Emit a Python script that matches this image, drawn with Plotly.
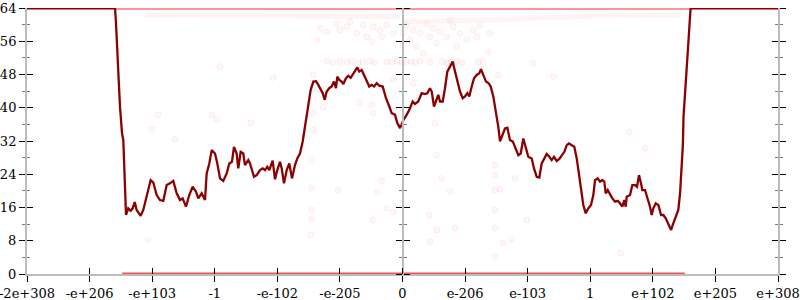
import plotly.graph_objects as go

# ---------------- data ----------------
tick_pos = [-6, -5, -4, -3, -2, -1, 0, 1, 2, 3, 4, 5, 6]
tick_text = ["-2e+308", "-e+206", "-e+103", "-1", "-e-102", "-e-205", "0",
             "e-206", "e-103", "1", "e+102", "e+205", "e+308"]
y_ticks = [0, 8, 16, 24, 32, 40, 48, 56, 64]

line_x = [-6.0, -4.594, -4.578, -4.562, -4.541, -4.514, -4.482, -4.461, -4.450, -4.434, -4.418,
          -4.382, -4.343, -4.311, -4.279, -4.248, -4.184, -4.142, -4.088, -4.024, -3.982, -3.928,
          -3.875, -3.822, -3.768, -3.715, -3.663, -3.608, -3.555, -3.513, -3.460, -3.407, -3.353,
          -3.300, -3.263, -3.209, -3.156, -3.129, -3.087, -3.049, -2.996, -2.959, -2.916, -2.864,
          -2.809, -2.768, -2.725, -2.693, -2.650, -2.624, -2.586, -2.544, -2.517, -2.464, -2.437,
          -2.373, -2.330, -2.277, -2.234, -2.197, -2.161, -2.129, -2.075, -2.037, -2.001, -1.957,
          -1.930, -1.894, -1.850, -1.809, -1.766, -1.718, -1.681, -1.638, -1.595, -1.542, -1.505,
          -1.467, -1.425, -1.382, -1.346, -1.307, -1.275, -1.243, -1.211, -1.170, -1.131, -1.095,
          -1.063, -1.042, -1.010, -0.972, -0.946, -0.903, -0.866, -0.828, -0.786, -0.754, -0.722,
          -0.690, -0.652, -0.615, -0.572, -0.531, -0.492, -0.455, -0.412, -0.371, -0.316, -0.264,
          -0.211, -0.173, -0.120, -0.083, -0.040, 0.013, 0.067, 0.109, 0.163, 0.200, 0.252, 0.307,
          0.360, 0.396, 0.439, 0.467, 0.503, 0.535, 0.572, 0.599, 0.642, 0.679, 0.716, 0.759, 0.802,
          0.839, 0.876, 0.919, 0.962, 0.999, 1.036, 1.067, 1.106, 1.143, 1.186, 1.227, 1.254, 1.291,
          1.334, 1.377, 1.409, 1.451, 1.494, 1.531, 1.558, 1.601, 1.638, 1.675, 1.718, 1.761, 1.798,
          1.851, 1.889, 1.930, 1.974, 2.010, 2.065, 2.101, 2.145, 2.186, 2.224, 2.261, 2.304, 2.346,
          2.384, 2.421, 2.464, 2.506, 2.554, 2.586, 2.624, 2.661, 2.704, 2.745, 2.784, 2.820, 2.864,
          2.889, 2.928, 2.969, 3.012, 3.049, 3.076, 3.119, 3.156, 3.193, 3.225, 3.247, 3.279, 3.316,
          3.353, 3.396, 3.439, 3.476, 3.512, 3.544, 3.567, 3.583, 3.636, 3.672, 3.715, 3.747, 3.779,
          3.811, 3.832, 3.875, 3.918, 3.955, 3.982, 4.008, 4.046, 4.088, 4.131, 4.168, 4.206, 4.248,
          4.291, 4.327, 4.366, 4.407, 4.435, 4.462, 4.480, 4.490, 4.530, 4.551, 4.567, 4.594, 4.605,
          6.0]
line_y = [64, 64, 60.4, 53.9, 48.6, 40.2, 33.9, 32.2, 27, 21.9, 14.2,
          15.8, 15.2, 15.8, 17.3, 15.4, 14, 15.4, 18.6, 22.6, 22, 19,
          17.8, 17.6, 21.4, 21.8, 22.4, 19.4, 17.8, 18.2, 16.2, 19, 21,
          19.8, 18.2, 19.4, 17.8, 24.2, 26.6, 29.8, 29, 26.6, 23, 22.4,
          24.2, 26.6, 27, 30.6, 29, 25.4, 29.4, 29, 26.2, 27.4, 26.6,
          23.4, 23.8, 25, 25.4, 25, 25.8, 25, 27.3, 22.8, 25, 27,
          25.4, 21.8, 25, 26.6, 23, 26.2, 27.8, 29, 31.9, 36.7, 41,
          44.3, 46.3, 46.4, 45.5, 44.3, 43.5, 41.9, 43.9, 44.7, 45.1, 46.3,
          44.7, 47.5, 46.7, 46.3, 45.7, 47.1, 47.7, 47.2, 48.3, 49.1, 49.7,
          48.7, 49.1, 47.9, 46.4, 45.1, 45.5, 45.1, 45.9, 45.3, 45.1, 42.3,
          40.3, 38.7, 38.3, 36.3, 35.1, 37, 38.3, 39.5, 41.5, 40.9, 41.5, 43.5,
          43.3, 43.5, 44.7, 43.9, 40.3, 41.5, 43.1, 41.5, 41.5, 44.7, 48.7, 49.9, 51.1,
          48.7, 46.7, 43.9, 42.3, 42.7, 43.5, 42.7, 45.1, 47.1, 47.9, 48.3, 49.3, 47.9,
          46.3, 45.9, 45.1, 42.7, 39.1, 35.4, 31.9, 33.4, 35, 35.2, 32.2, 31.9, 30.6,
          28.6, 29, 32.6, 30.2, 28.2, 27.8, 25.4, 23.4, 23.2, 26.6, 27.8, 28.9, 28.2,
          27.4, 28.2, 27.2, 27.7, 28.6, 29.4, 31, 31.4, 31, 30.6, 27.8, 23.8, 19.8,
          16.6, 14.6, 15.8, 16.6, 19, 22.6, 23, 22.2, 22.6, 22.2, 19.4, 20.2, 19,
          18.2, 17.4, 17.6, 17, 16.2, 17.8, 16.2, 18.6, 19, 21.4, 21.4, 21, 23.8,
          21.8, 20.2, 20.2, 18.2, 16.2, 14.2, 15.8, 17, 16.6, 14.2, 14.2, 13.4, 12.2,
          10.6, 12.2, 13.8, 15.4, 19.4, 26, 31, 37.8, 45.9, 49.9, 55.5, 61.9, 64,
          64]

# dense bands of sample points (start/end of each band)
band_top_x = [-6.0, 6.0]
band_top_y = [64, 64]
band_zero_x = [-4.48, 4.51]
band_zero_y = [0, 0]
band62_left_x = [-4.11, -2.0, -0.05]
band62_left_y = [62.2, 61.9, 61.9]
band62_right_x = [0.0, 1.5, 3.0, 4.45]
band62_right_y = [60.7, 61.2, 62.0, 62.3]

# scattered sample points
pts_x = [-2.916, -2.065, -3.049, -2.969, -2.426, -1.425, -1.425, -1.425, -1.266, -0.492, -0.466,
         -0.147, -0.690, -1.371, -1.211, -0.999, -0.892, -0.732, -0.572, -0.492, -0.360, -0.252,
         -0.147, -1.318, -1.051, -0.839, -0.626, -0.466, -0.332,
         -1.208, -1.112, -1.0, -0.887, -0.807, -0.711, -0.631, -0.519, -0.439, -0.248, -0.168,
         -0.088, -0.008, 0.056, 0.136, 0.2, 0.280, 0.439, 0.631, 0.711, 0.791, 0.871, 0.951,
         1.206, 1.286,
         0.067, 0.173, 0.280, 0.387, 0.492, 0.599, 0.706, 0.812, 0.919, 1.026, 1.131, 1.238,
         1.398, 0.120, 0.227, 0.332, 1.371, 0.546, 0.866, 0.013, 0.439, 0.759, 1.186,
         0.173, 1.531, 2.090, 0.519, 2.410,
         0.546, 1.478, 1.478, 1.478, 1.478, 1.478, 1.478, 1.558, 1.798, 0.626, 0.759, 0.428,
         0.546, 0.839, 0.439, 1.611, 1.745, 1.985,
         -1.451, -1.451, -1.451, -1.451, -1.467, -1.026, -0.403, -0.332, -0.252, -0.147, -0.476,
         3.624, 3.875, 3.487, -3.902, -4.008, -3.636, -4.062]
pts_y = [49.9, 47.3, 38.3, 37.2, 36.4, 38.7, 34.6, 47.9, 40.1, 40.6, 38.7,
         46.8, 41.2, 56.3, 58.3, 58.7, 59.5, 57.9, 57.1, 55.9, 58.7, 59.9,
         57.9, 59.1, 60.3, 60.7, 59.9, 59.5, 57.1,
         51.2, 50.9, 51.1, 51.0, 51.3, 50.8, 51.0, 51.2, 50.9, 51.1, 51.0,
         51.2, 50.8, 51.0, 51.1, 50.9, 51.2, 51.0, 51.1, 50.8, 51.0, 51.2, 50.9,
         51.0, 51.1,
         59.9, 58.7, 57.9, 60.3, 59.1, 58.3, 57.1, 59.5, 57.9, 56.3, 58.7, 59.9,
         57.9, 56.3, 54.7, 53.1, 53.5, 55.5, 54.7, 57.9, 57.1, 61.0, 57.1,
         45.9, 47.9, 50.7, 36.3, 47.5,
         28.6, 26.2, 23.8, 20.2, 15.4, 11.0, 4.2, 20.4, 23.0, 23.0, 19.9, 14.2,
         10.6, 11.0, 7.8, 7.4, 8.3, 13.0,
         27.4, 20.6, 15.4, 13.2, 9.4, 20.2, 19.6, 22.4, 15.8, 15.0, 13.0,
         34.2, 30.2, 5.0, 38.3, 34.8, 32.4, 8.2]

# ---------------- figure ----------------
FONT = "DejaVu Serif, Liberation Serif, serif"
fig = go.Figure()

# bands
fig.add_trace(go.Scatter(x=band62_left_x, y=band62_left_y, mode="lines",
                         line=dict(color="rgba(255,0,0,0.045)", width=5),
                         hoverinfo="skip", showlegend=False, cliponaxis=False))
fig.add_trace(go.Scatter(x=band62_right_x, y=band62_right_y, mode="lines",
                         line=dict(color="rgba(255,0,0,0.045)", width=5, shape="spline"),
                         hoverinfo="skip", showlegend=False, cliponaxis=False))
fig.add_trace(go.Scatter(x=band_top_x, y=band_top_y, mode="lines",
                         line=dict(color="rgba(255,0,0,0.42)", width=4),
                         hoverinfo="skip", showlegend=False, cliponaxis=False))
fig.add_trace(go.Scatter(x=band_zero_x, y=band_zero_y, mode="lines",
                         line=dict(color="rgba(235,40,40,0.8)", width=3),
                         hoverinfo="skip", showlegend=False, cliponaxis=False))
# scattered points
fig.add_trace(go.Scatter(x=pts_x, y=pts_y, mode="markers",
                         marker=dict(size=6, color="rgba(255,0,0,0.03)",
                                     line=dict(color="rgba(255,0,0,0.06)", width=1)),
                         hoverinfo="skip", showlegend=False, cliponaxis=False))
# average line
fig.add_trace(go.Scatter(x=line_x, y=line_y, mode="lines",
                         line=dict(color="#8b0000", width=2.3),
                         hoverinfo="skip", showlegend=False, cliponaxis=False))

# dummy traces for overlay axes (crossing ticks)
for xa, ya in [("x", "y2"), ("x", "y3"), ("x", "y4"), ("x", "y5"), ("x", "y6"), ("x2", "y")]:
    fig.add_trace(go.Scatter(x=[None], y=[None], xaxis=xa, yaxis=ya,
                             showlegend=False, hoverinfo="skip"))

axis_gray = "#bbbbbb"
yrange = [0, 64]
common_y = dict(range=yrange, tickvals=y_ticks, showgrid=False, zeroline=False,
                fixedrange=True, tickcolor="black", tickwidth=1, ticklen=6,
                automargin=False)
minor_y = dict(dtick=4, ticklen=3, tickcolor="#777777", tickwidth=1)

fig.update_layout(
    width=800, height=300,
    margin=dict(l=27, r=22, t=8, b=26, pad=0),
    paper_bgcolor="white", plot_bgcolor="white",
    font=dict(family=FONT, size=13, color="black"),
    xaxis=dict(range=[-6, 6], tickvals=tick_pos, ticktext=tick_text,
               showgrid=False, zeroline=False, showline=True, linecolor=axis_gray,
               linewidth=2, ticks="outside", ticklen=6, tickcolor="black", tickwidth=1,
               automargin=False, fixedrange=True, anchor="y", ticklabeloverflow="allow",
               tickfont=dict(family=FONT, size=13, color="black")),
    xaxis2=dict(range=[-6, 6], tickvals=tick_pos, overlaying="x", anchor="y",
                side="bottom", showgrid=False, zeroline=False, showline=False,
                ticks="inside", ticklen=6, tickcolor="black", tickwidth=1,
                showticklabels=False, automargin=False, fixedrange=True),
    yaxis=dict(**common_y, side="left", ticks="outside", showline=True,
               linecolor=axis_gray, linewidth=2, showticklabels=True,
               ticklabeloverflow="allow",
               tickfont=dict(family=FONT, size=13, color="black"),
               minor=dict(**minor_y, ticks="outside")),
    yaxis2=dict(**common_y, overlaying="y", side="left", anchor="x", ticks="inside",
                showline=False, showticklabels=False,
                minor=dict(**minor_y, ticks="inside")),
    yaxis3=dict(**common_y, overlaying="y", side="right", anchor="x", ticks="outside",
                showline=True, linecolor=axis_gray, linewidth=2, showticklabels=False,
                minor=dict(**minor_y, ticks="outside")),
    yaxis4=dict(**common_y, overlaying="y", side="right", anchor="x", ticks="inside",
                showline=False, showticklabels=False,
                minor=dict(**minor_y, ticks="inside")),
    yaxis5=dict(**common_y, overlaying="y", side="left", anchor="free", position=0.5,
                ticks="outside", showline=True, linecolor=axis_gray, linewidth=2,
                showticklabels=False, minor=dict(**minor_y, ticks="outside")),
    yaxis6=dict(**common_y, overlaying="y", side="right", anchor="free", position=0.5,
                ticks="outside", showline=False, showticklabels=False,
                minor=dict(**minor_y, ticks="outside")),
)

fig.write_html("out.html")
